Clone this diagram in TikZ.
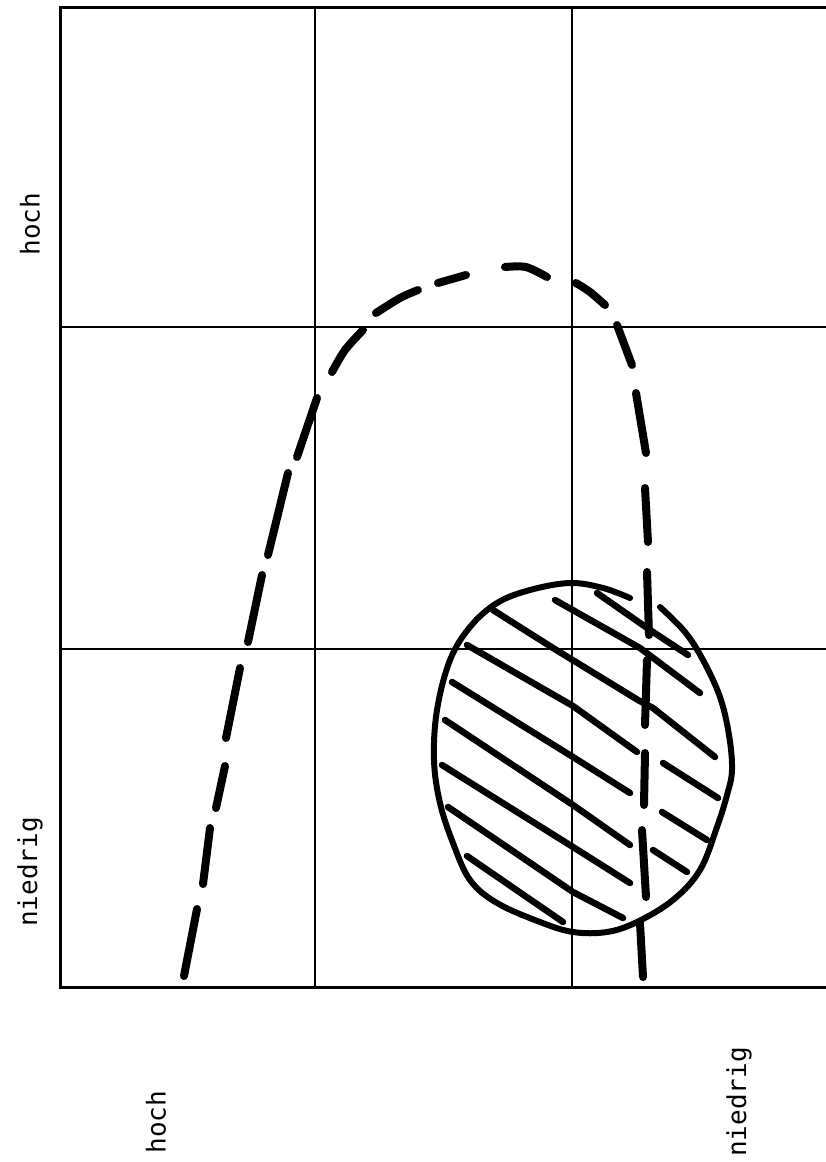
\documentclass[tikz,border=0pt]{standalone}
\usepackage{fontspec}
\newfontfamily\labfont{DejaVu Sans Mono}
\begin{document}
\begin{tikzpicture}[x=1pt,y=-1pt,
  gridouter/.style={line width=3pt},
  gridmid/.style={line width=2.2pt},
  gridinner/.style={line width=1.4pt},
  dsh/.style={line width=8pt,line cap=round,line join=round},
  blob/.style={line width=6pt,line join=round,line cap=round},
  hatch/.style={line width=6.5pt,line cap=round,line join=round},
  lab/.style={rotate=90,inner sep=0pt,font=\labfont\fontsize{26}{30}\selectfont}]
\useasboundingbox[fill=white] (0,0) rectangle (826,1162);
% grid
\draw[gridouter] (826,7) -- (60,7) -- (60,987) -- (826,987);
\draw[gridmid] (60,327) -- (826,327);
\draw[gridmid] (60,649) -- (826,649);
\draw[gridinner] (315,7) -- (315,987);
\draw[gridinner] (572,7) -- (572,987);
% dashed curve
\draw[dsh] (184,976) -- (197,909);
\draw[dsh] (203,884) -- (210,828);
\draw[dsh] (216,808) -- (225,766);
\draw[dsh] (226,738) -- (240,668);
\draw[dsh] (248,642) -- (262,575);
\draw[dsh] (268,555) -- (288,473);
\draw[dsh] (297,457) -- (317,398);
\draw[dsh] plot[smooth] coordinates {(332,372) (345,350) (363,330)};
\draw[dsh] plot[smooth] coordinates {(376,313) (400,298) (418,290)};
\draw[dsh] (438,283) -- (466,275);
\draw[dsh] plot[smooth] coordinates {(505,267) (526,267) (547,277)};
\draw[dsh] plot[smooth] coordinates {(576,283) (590,292) (605,305)};
\draw[dsh] (617,325) -- (632,365);
\draw[dsh] (636,393) -- (646,453);
\draw[dsh] (645,488) -- (648,542);
\draw[dsh] (647,572) -- (649,635);
\draw[dsh] (647,660) -- (645,725);
\draw[dsh] (645,753) -- (644,805);
\draw[dsh] (642,830) -- (646,897);
\draw[dsh] (640,923) -- (643,977);
% blob outline
\draw[blob] plot[smooth,tension=0.6] coordinates {(660,607) (685,632) (703,660) (720,697) (729,735) (732,770) (727,795) (717,827) (700,870) (673,900) (637,922) (607,932) (573,932) (540,922) (497,903) (470,880) (453,843) (440,803) (434,760) (437,710) (450,660) (470,627) (497,603) (530,590) (570,583) (603,588) (630,598)};
% hatching
\draw[hatch] (597,593) -- (650,630) -- (688,655);
\draw[hatch] (555,600) -- (640,648) -- (700,693);
\draw[hatch] (493,610) -- (553,648) -- (638,700) -- (653,708) -- (715,757);
\draw[hatch] (467,645) -- (573,706) -- (637,752);
\draw[hatch] (663,763) -- (718,798);
\draw[hatch] (452,682) -- (573,757) -- (630,793);
\draw[hatch] (662,812) -- (707,840);
\draw[hatch] (445,720) -- (573,805) -- (630,845);
\draw[hatch] (653,850) -- (687,872);
\draw[hatch] (442,765) -- (573,847) -- (630,883);
\draw[hatch] (448,807) -- (573,892) -- (623,918);
\draw[hatch] (467,856) -- (563,922);
% labels
\node[lab] (yhoch) at (30,224) {hoch};
\node[lab] (yniedrig) at (30,872) {niedrig};
\node[lab] (xhoch) at (156,1122) {hoch};
\node[lab] (xniedrig) at (739,1102) {niedrig};
\end{tikzpicture}
\end{document}
